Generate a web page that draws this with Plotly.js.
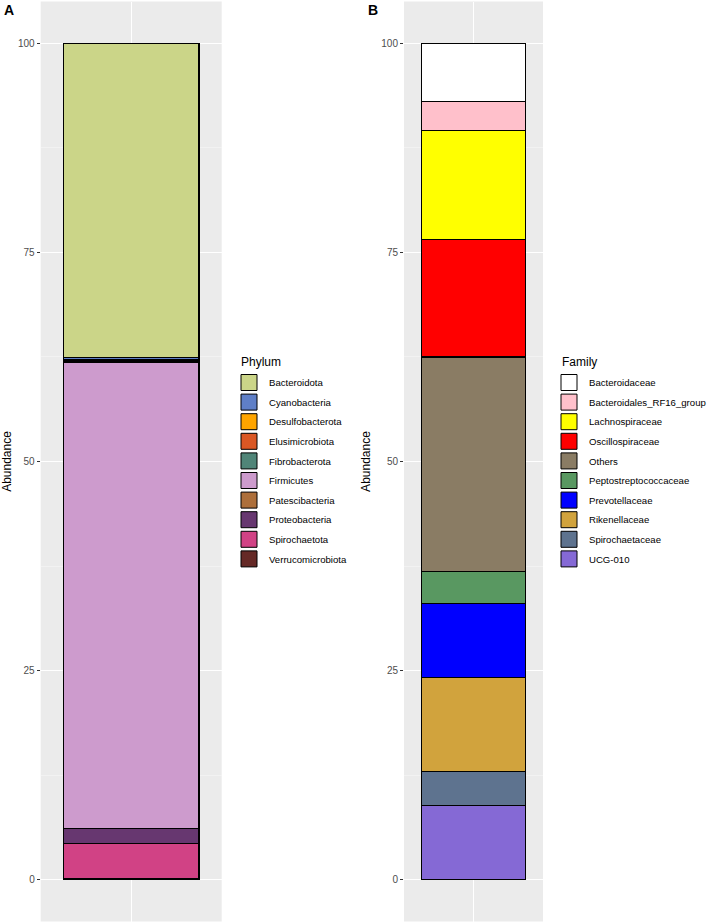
<!DOCTYPE html>
<html>
<head>
<meta charset="utf-8">
<script src="https://cdn.plot.ly/plotly-3.0.1.min.js"></script>
<style>html,body{margin:0;padding:0;background:#fff}#chart{width:708px;height:923px}</style>
</head>
<body>
<div id="chart"></div>
<script>
// Panel A: Phylum (listed in legend order, top of stack first)
const phyla = ["Bacteroidota","Cyanobacteria","Desulfobacterota","Elusimicrobiota","Fibrobacterota","Firmicutes","Patescibacteria","Proteobacteria","Spirochaetota","Verrucomicrobiota"];
const phylumAbundance = [37.55, 0.3, 0.1, 0.05, 0.1, 55.75, 0.05, 1.8, 4.2, 0.1];
const phylumColors = ["#CBD588","#5F7FC7","#FFA500","#DA5724","#508578","#CD9BCD","#AD6F3B","#673770","#D14285","#652926"];

// Panel B: Family
const families = ["Bacteroidaceae","Bacteroidales_RF16_group","Lachnospiraceae","Oscillospiraceae","Others","Peptostreptococcaceae","Prevotellaceae","Rikenellaceae","Spirochaetaceae","UCG-010"];
const familyAbundance = [7.0, 3.4, 13.1, 14.0, 25.65, 3.85, 8.8, 11.25, 4.05, 8.9];
const familyColors = ["#FFFFFF","#FFC0CB","#FFFF00","#FF0000","#8A7C64","#599861","#0000FF","#D1A33D","#5E738F","#8569D5"];

const sampleX = [1];
const yTicks = [0, 25, 50, 75, 100];

const traces = [];
function addPanel(names, vals, cols, xa, ya, leg) {
  for (let i = names.length - 1; i >= 0; i--) {
    traces.push({
      type: 'bar', x: sampleX, y: [vals[i]], name: names[i],
      xaxis: xa, yaxis: ya, width: 0.9,
      marker: {color: cols[i], line: {color: '#000', width: 1.2}},
      showlegend: false
    });
  }
  for (let i = 0; i < names.length; i++) {
    traces.push({
      type: 'scatter', mode: 'markers', x: [null], y: [null], name: names[i],
      xaxis: xa, yaxis: ya, legend: leg, legendgroup: leg + i,
      marker: {symbol: 'square', size: 16, color: cols[i], line: {color: '#000', width: 1}},
      showlegend: true
    });
  }
}
addPanel(phyla, phylumAbundance, phylumColors, 'x', 'y', 'legend');
addPanel(families, familyAbundance, familyColors, 'x2', 'y2', 'legend2');

const W = 708, H = 923;
const FONT = 'Liberation Sans, Arial, sans-serif';
function yax(anchor) {
  return {
    domain: [1.5 / H, 1 - 1.5 / H], range: [-5, 105], anchor: anchor,
    tickvals: yTicks, ticktext: yTicks.map(String),
    ticks: 'outside', ticklen: 3, tickcolor: '#333', tickwidth: 1,
    tickfont: {family: FONT, size: 10, color: '#4D4D4D'},
    showgrid: true, gridcolor: '#FFFFFF', gridwidth: 1,
    minor: {tickvals: [12.5, 37.5, 62.5, 87.5], showgrid: true, gridcolor: '#F6F6F6', gridwidth: 0.6, ticks: ''},
    zeroline: false, showline: false,
    title: {text: 'Abundance', font: {family: FONT, size: 12, color: '#000'}, standoff: 8}
  };
}
function xax(dom, anchor) {
  return {
    domain: dom, range: [0.4, 1.6], anchor: anchor,
    tickvals: [1], ticktext: [''], ticks: '', showgrid: true, gridcolor: '#FFFFFF', gridwidth: 1,
    zeroline: false, showline: false
  };
}
function legendCfg(xpx) {
  return {
    x: xpx / W, y: 1 - 368 / H, xanchor: 'left', yanchor: 'top',
    bgcolor: 'rgba(0,0,0,0)', borderwidth: 0, traceorder: 'grouped', tracegroupgap: 0.6,
    font: {family: FONT, size: 9.6, color: '#000'},
    itemsizing: 'trace'
  };
}
function ann(text, xpx, ypx, size, bold) {
  return {text: bold ? '<b>' + text + '</b>' : text, xref: 'paper', yref: 'paper', x: xpx / W, y: 1 - ypx / H,
    xanchor: 'left', yanchor: 'middle', showarrow: false, font: {family: FONT, size: size, color: '#000'}};
}

const layout = {
  width: W, height: H,
  margin: {l: 0, r: 0, t: 0, b: 0, autoexpand: false},
  paper_bgcolor: '#FFFFFF', plot_bgcolor: '#EBEBEB',
  barmode: 'stack', bargap: 0,
  showlegend: true,
  xaxis: xax([40.7 / W, 221.7 / W], 'y'),
  yaxis: yax('x'),
  xaxis2: xax([404 / W, 543 / W], 'y2'),
  yaxis2: yax('x2'),
  legend: legendCfg(229),
  legend2: legendCfg(549),
  annotations: [
    ann('A', 2, 10, 14, true),
    ann('B', 366, 10, 14, true),
    ann('Phylum', 239, 362, 12, false),
    ann('Family', 560, 362, 12, false)
  ]
};

Plotly.newPlot('chart', traces, layout, {displayModeBar: false, staticPlot: true});
</script>
</body>
</html>
